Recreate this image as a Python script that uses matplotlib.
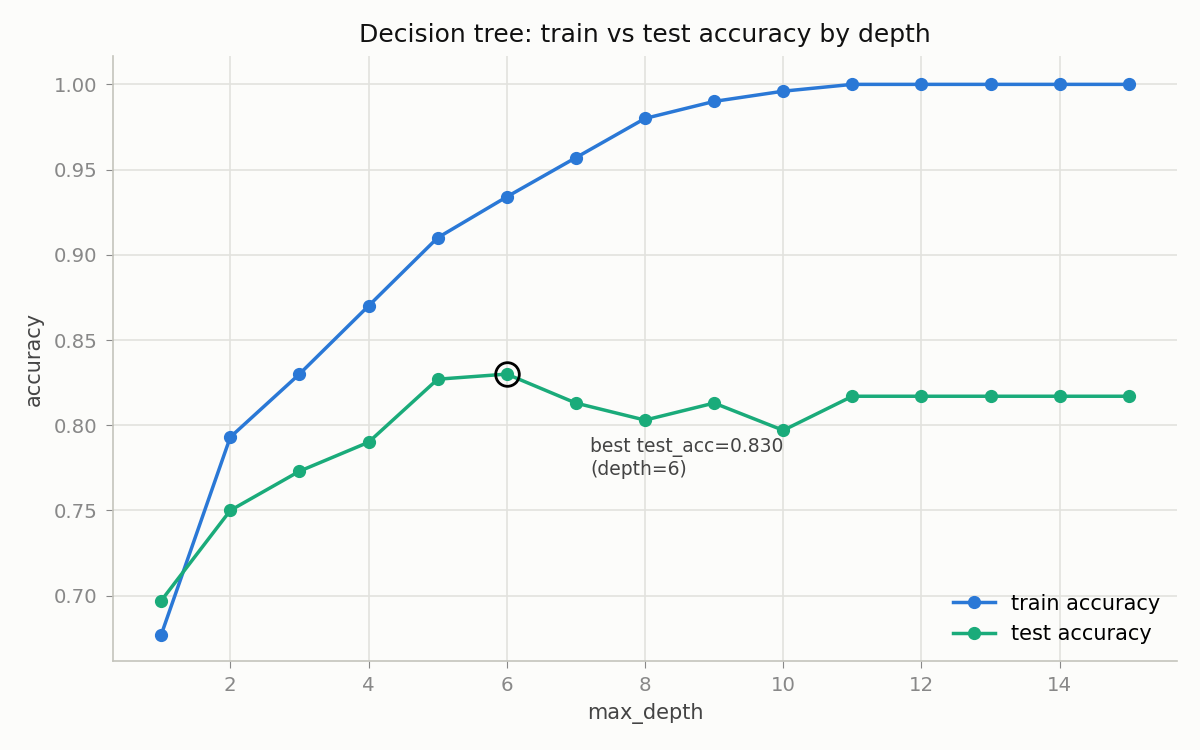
import numpy as np
from matplotlib import pyplot as plt

plt.rcParams["font.family"] = ["DejaVu Sans"]

depths = list(range(1, 16))
train_acc = [0.677, 0.793, 0.830, 0.870, 0.910, 0.934, 0.957, 0.980, 0.990, 0.996,
             1.0, 1.0, 1.0, 1.0, 1.0]
test_acc = [0.697, 0.750, 0.773, 0.790, 0.827, 0.830, 0.813, 0.803, 0.813, 0.797,
            0.817, 0.817, 0.817, 0.817, 0.817]

bg = "#fcfcfa"
fig, ax = plt.subplots(figsize=(12, 7.5), dpi=100, facecolor=bg)
ax.set_facecolor(bg)
fig.subplots_adjust(left=0.094, right=0.981, top=0.925, bottom=0.119)

ax.plot(depths, train_acc, "-o", color="#2a78d6", lw=2.5, ms=8.5, label="train accuracy", zorder=3)
ax.plot(depths, test_acc, "-o", color="#1aab7a", lw=2.5, ms=8.5, label="test accuracy", zorder=3)

# circle the best test score
best = int(np.argmax(test_acc))
ax.plot(depths[best], test_acc[best], "o", ms=17, mfc="none", mec="black", mew=2, zorder=4)
ax.annotate(f"best test_acc={test_acc[best]:.3f}\n(depth={depths[best]})",
            xy=(depths[best], test_acc[best]), xytext=(60, -45), textcoords="offset points",
            fontsize=13.5, color="#444444", va="top", ha="left")

ax.set_xlim(0.3, 15.7)
ax.set_ylim(0.6618, 1.0165)
ax.set_title("Decision tree: train vs test accuracy by depth", fontsize=18, color="#111111", pad=10)
ax.set_xlabel("max_depth", fontsize=15, color="#444444", labelpad=6)
ax.set_ylabel("accuracy", fontsize=15, color="#444444", labelpad=7)
ax.grid(True, color="#e2e2de", lw=1.2)
ax.set_axisbelow(True)
for s in ["top", "right"]:
    ax.spines[s].set_visible(False)
for s in ["left", "bottom"]:
    ax.spines[s].set_color("#c4c4bc")
    ax.spines[s].set_linewidth(1.2)
ax.tick_params(colors="#888888", labelsize=14.2, length=5, pad=6)
ax.legend(loc="lower right", frameon=False, fontsize=15, borderaxespad=0.4)

plt.savefig("out.png", facecolor=bg)
